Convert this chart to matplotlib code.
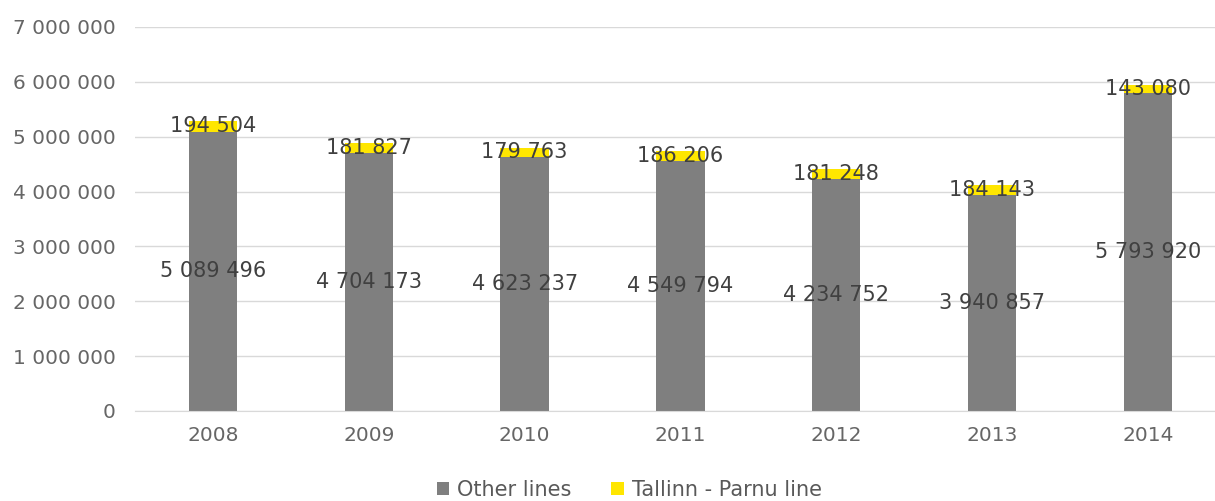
import matplotlib.pyplot as plt
import numpy as np

plt.rcParams['font.family'] = ['DejaVu Sans']

years = ["2008", "2009", "2010", "2011", "2012", "2013", "2014"]
other_lines = [5089496, 4704173, 4623237, 4549794, 4234752, 3940857, 5793920]
tallinn_parnu = [194504, 181827, 179763, 186206, 181248, 184143, 143080]

def fmt(v):
    # thousands separated by spaces
    return "{:,}".format(int(v)).replace(",", " ")

fig = plt.figure(figsize=(12.15, 5.01), dpi=100)
ax = fig.add_axes([135/1215, 1-411/501, 1-135/1215, (411-27)/501])

x = np.arange(len(years))
w = 0.31
ax.bar(x, other_lines, w, color="#7f7f7f", label="Other lines", zorder=2)
ax.bar(x, tallinn_parnu, w, bottom=other_lines, color="#ffe600",
       label="Tallinn - Parnu line", zorder=2)

# value labels centred on each segment
for i in range(len(years)):
    ax.text(x[i], other_lines[i]/2, fmt(other_lines[i]), ha="center", va="center",
            fontsize=15, color="#404040", zorder=3)
    ax.text(x[i], other_lines[i] + tallinn_parnu[i]/2, fmt(tallinn_parnu[i]),
            ha="center", va="center", fontsize=15, color="#404040", zorder=3)

ax.set_ylim(0, 7000000)
ax.set_xlim(-0.5, 6.43)
ax.set_yticks(np.arange(0, 7000001, 1000000))
ax.set_yticklabels([fmt(v) for v in np.arange(0, 7000001, 1000000)])
ax.set_xticks(x)
ax.set_xticklabels(years)
ax.tick_params(axis="both", length=0, labelsize=14.5, labelcolor="#666666")
ax.tick_params(axis="y", pad=14)
ax.tick_params(axis="x", pad=11)

ax.grid(axis="y", color="#d9d9d9", lw=1, zorder=0)
for s in ["top", "right", "left"]:
    ax.spines[s].set_visible(False)
ax.spines["bottom"].set_color("#d9d9d9")

leg = fig.legend(loc="lower center", bbox_to_anchor=(0.518, -0.035), ncol=2, frameon=False,
                 fontsize=15, handlelength=0.6, handleheight=0.6, handletextpad=0.4,
                 columnspacing=1.9)
for t in leg.get_texts():
    t.set_color("#595959")

fig.savefig("out.png", dpi=100)
